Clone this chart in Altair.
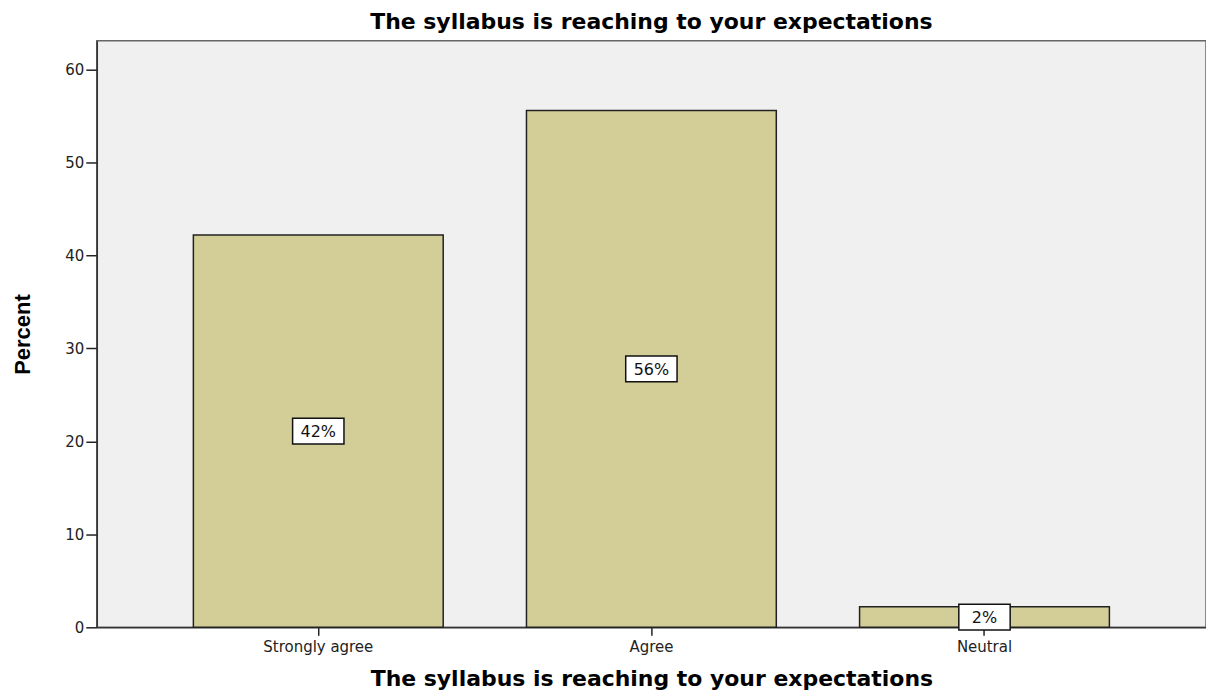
import altair as alt
import pandas as pd

categories = ["Strongly agree", "Agree", "Neutral"]
percents = [42.2, 55.6, 2.2]
labels = ["42%", "56%", "2%"]

df = pd.DataFrame({"cat": categories, "pct": percents, "label": labels})
df["mid"] = df["pct"] / 2

FONT = "DejaVu Sans"

x = alt.X("cat:N", sort=categories,
          scale=alt.Scale(paddingInner=0.25, paddingOuter=0.29),
          axis=alt.Axis(title="The syllabus is reaching to your expectations",
                        labelAngle=0, labelFont=FONT, labelFontSize=15,
                        labelColor="#222", tickSize=8, tickColor="#222",
                        domainColor="#333", domainWidth=1.5, tickWidth=1.5,
                        labelPadding=4, titleFont=FONT, titleFontSize=22,
                        titleFontWeight="bold", titleColor="#000",
                        titlePadding=14))
y_scale = alt.Scale(domain=[0, 63.1], nice=False)

bars = alt.Chart(df).mark_bar(color="#d3ce97", stroke="#222", strokeWidth=1.5).encode(
    x=x,
    y=alt.Y("pct:Q", scale=y_scale,
            axis=alt.Axis(title="Percent", values=[0, 10, 20, 30, 40, 50, 60],
                          grid=False, labelFont=FONT, labelFontSize=15,
                          labelColor="#222", tickSize=11, tickColor="#222",
                          tickWidth=1.5, domainColor="#333", domainWidth=1.5,
                          labelPadding=2, titleFont="Liberation Sans",
                          titleFontSize=22, titleFontWeight="bold",
                          titleColor="#000", titlePadding=30)),
)

box = alt.Chart(df).mark_point(
    shape="M-1,-0.5L1,-0.5L1,0.5L-1,0.5Z", size=2650, filled=True,
    fill="white", stroke="#111", strokeWidth=1.5, opacity=1,
).encode(x=alt.X("cat:N", sort=categories), y=alt.Y("mid:Q", scale=y_scale))

text = alt.Chart(df).mark_text(font=FONT, fontSize=16, color="#111", dy=1).encode(
    x=alt.X("cat:N", sort=categories), y=alt.Y("mid:Q", scale=y_scale),
    text="label:N",
)

chart = alt.layer(bars, box, text).properties(
    width=1112, height=588,
    title=alt.TitleParams("The syllabus is reaching to your expectations",
                          font=FONT, fontSize=22, fontWeight="bold",
                          color="#000", offset=7),
    autosize=alt.AutoSizeParams(type="none"),
    padding={"left": 89, "top": 32, "right": 0, "bottom": 62},
).configure_view(fill="#f0f0f0", stroke="#666", strokeWidth=1.5)

chart.save("out.html", embed_options={"renderer": "svg", "actions": False})
